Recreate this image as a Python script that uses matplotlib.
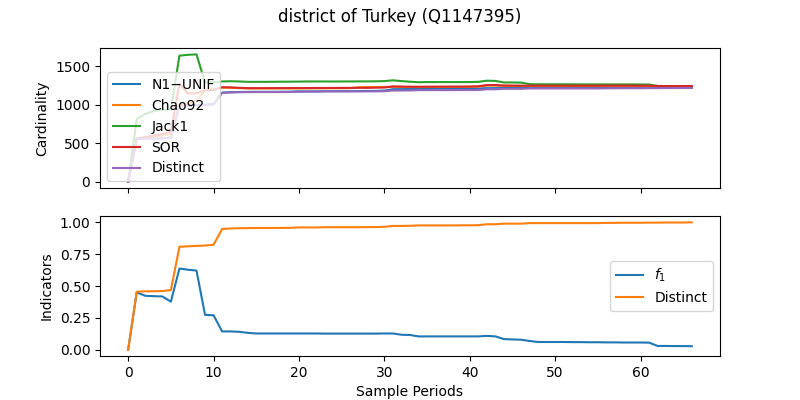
import matplotlib
matplotlib.use("Agg")
import matplotlib.pyplot as plt
import numpy as np

# sample periods 0..66
periods = list(range(67))

jack1 = [0, 815, 880, 920, 935, 940, 1641, 1652, 1658, 1290,
         1295, 1305, 1308, 1305, 1300, 1300, 1300, 1301, 1302, 1302,
         1303, 1305, 1305, 1305, 1304, 1305, 1305, 1306, 1306, 1307,
         1310, 1320, 1310, 1302, 1295, 1297, 1297, 1297, 1297, 1297,
         1297, 1300, 1315, 1312, 1292, 1292, 1290, 1270, 1268, 1268,
         1268, 1268, 1268, 1267, 1267, 1267, 1267, 1267, 1267, 1267,
         1266, 1265, 1246, 1246, 1245, 1245, 1245]

sor = [0, 560, 580, 600, 620, 650, 1275, 1150, 1150, 1190,
       1195, 1230, 1228, 1222, 1218, 1218, 1218, 1218, 1218, 1219,
       1219, 1219, 1220, 1220, 1220, 1221, 1221, 1222, 1222, 1224,
       1226, 1240, 1238, 1237, 1236, 1237, 1237, 1238, 1238, 1238,
       1239, 1242, 1258, 1258, 1252, 1251, 1250, 1250, 1250, 1250,
       1250, 1250, 1250, 1250, 1250, 1250, 1251, 1251, 1251, 1251,
       1250, 1250, 1246, 1245, 1245, 1245, 1245]

chao92 = [0, 555, 575, 590, 600, 620, 1000, 1010, 1050, 1195,
          1200, 1225, 1222, 1218, 1214, 1214, 1214, 1214, 1215, 1215,
          1215, 1216, 1216, 1216, 1217, 1217, 1218, 1230, 1232, 1232,
          1234, 1236, 1234, 1233, 1232, 1233, 1233, 1234, 1234, 1234,
          1235, 1238, 1252, 1252, 1248, 1247, 1246, 1246, 1246, 1246,
          1246, 1246, 1246, 1246, 1246, 1246, 1247, 1247, 1247, 1247,
          1246, 1246, 1243, 1242, 1242, 1242, 1242]

distinct = [0, 556, 559, 560, 562, 571, 987, 991, 995, 999,
            1006, 1157, 1162, 1165, 1166, 1167, 1167, 1167, 1167, 1168,
            1172, 1172, 1172, 1175, 1175, 1175, 1175, 1175, 1176, 1176,
            1178, 1187, 1187, 1188, 1192, 1192, 1192, 1192, 1192, 1193,
            1193, 1194, 1203, 1203, 1209, 1209, 1209, 1214, 1214, 1214,
            1214, 1214, 1214, 1214, 1214, 1214, 1216, 1216, 1217, 1217,
            1217, 1218, 1218, 1219, 1219, 1220, 1221]

n1_unif = [0, 560, 563, 564, 566, 575, 990, 994, 998, 1002,
           1009, 1160, 1165, 1168, 1169, 1170, 1170, 1170, 1171, 1172,
           1176, 1176, 1176, 1178, 1178, 1179, 1180, 1180, 1181, 1182,
           1186, 1204, 1205, 1206, 1208, 1208, 1209, 1210, 1210, 1211,
           1212, 1213, 1218, 1218, 1220, 1220, 1220, 1221, 1221, 1221,
           1221, 1221, 1221, 1221, 1221, 1221, 1221, 1221, 1221, 1221,
           1221, 1221, 1221, 1221, 1221, 1221, 1221]

f1_ind = [0.0, 0.45, 0.423, 0.42, 0.418, 0.377, 0.637, 0.628, 0.621, 0.273,
          0.27, 0.143, 0.143, 0.14, 0.132, 0.127, 0.127, 0.127, 0.127, 0.127,
          0.127, 0.127, 0.127, 0.126, 0.126, 0.126, 0.126, 0.126, 0.126, 0.126,
          0.127, 0.127, 0.117, 0.115, 0.104, 0.104, 0.104, 0.104, 0.104, 0.104,
          0.104, 0.104, 0.108, 0.104, 0.083, 0.08, 0.078, 0.068, 0.06, 0.06,
          0.06, 0.06, 0.059, 0.059, 0.058, 0.058, 0.057, 0.057, 0.056, 0.056,
          0.056, 0.055, 0.029, 0.029, 0.028, 0.028, 0.027]

distinct_ind = [0.0, 0.455, 0.458, 0.459, 0.46, 0.468, 0.808, 0.812, 0.815, 0.818,
                0.824, 0.948, 0.952, 0.954, 0.955, 0.956, 0.956, 0.956, 0.956, 0.957,
                0.96, 0.96, 0.96, 0.962, 0.962, 0.962, 0.962, 0.962, 0.963, 0.963,
                0.965, 0.972, 0.972, 0.973, 0.976, 0.976, 0.976, 0.976, 0.976, 0.977,
                0.977, 0.978, 0.985, 0.985, 0.99, 0.99, 0.99, 0.994, 0.994, 0.994,
                0.994, 0.994, 0.994, 0.994, 0.994, 0.994, 0.996, 0.996, 0.997, 0.997,
                0.997, 0.998, 0.998, 0.999, 0.999, 0.999, 1.0]

fig, (ax1, ax2) = plt.subplots(2, 1, sharex=True, figsize=(8, 4), dpi=100)
fig.suptitle("district of Turkey (Q1147395)")

ax1.plot(periods, n1_unif, label="N1\u2212UNIF")
ax1.plot(periods, chao92, label="Chao92")
ax1.plot(periods, jack1, label="Jack1")
ax1.plot(periods, sor, label="SOR")
ax1.plot(periods, distinct, label="Distinct")
ax1.set_ylabel("Cardinality")
ax1.legend(loc="lower left")

ax2.plot(periods, f1_ind, label="$f_1$")
ax2.plot(periods, distinct_ind, label="Distinct")
ax2.set_ylabel("Indicators")
ax2.set_xlabel("Sample Periods")
ax2.legend(loc="center right")

fig.savefig("out.png")
